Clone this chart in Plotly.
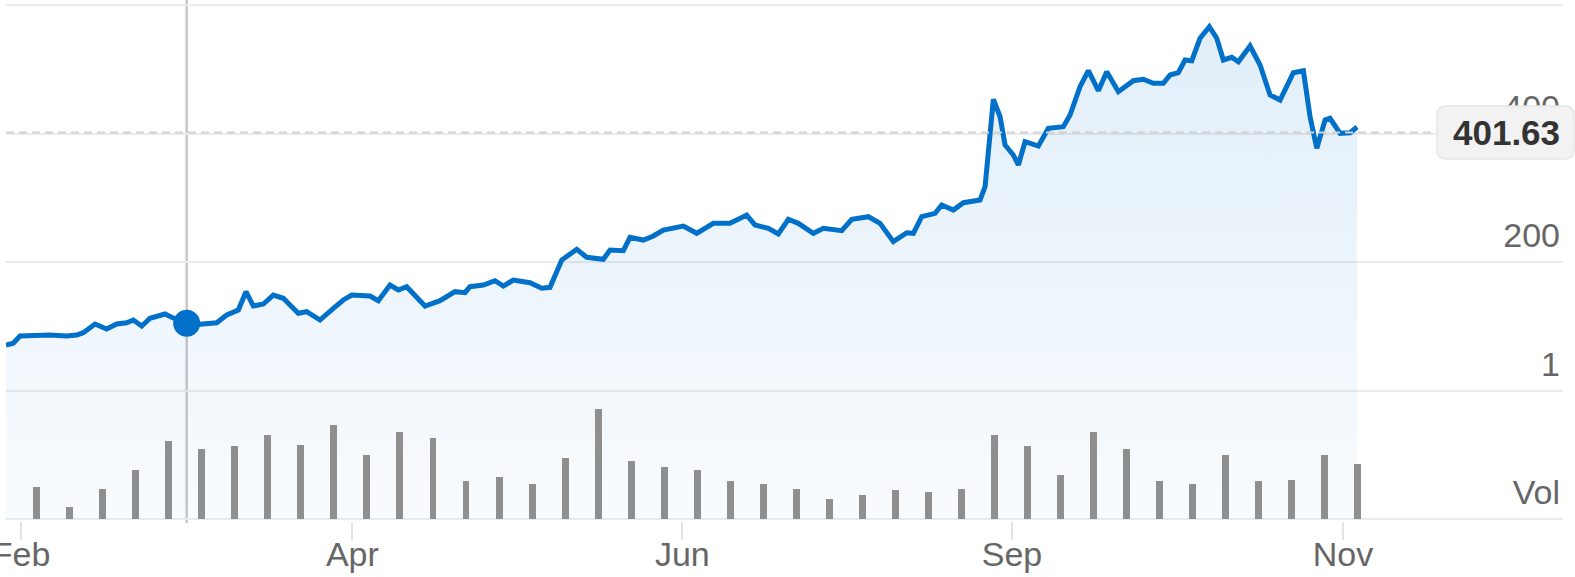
import plotly.graph_objects as go

# ---------------- data ----------------
# weekly volume bars (millions), one per week index 0..40
volume_m = [8.0, 3.0, 7.5, 12.3, 19.5, 17.5, 18.3, 21.0, 18.5, 23.5,
            16.0, 21.8, 20.3, 9.5, 10.5, 8.8, 15.3, 27.5, 14.5, 13.0,
            12.3, 9.5, 8.8, 7.5, 5.0, 6.0, 7.3, 6.8, 7.5, 21.0,
            18.3, 11.0, 21.8, 17.5, 9.5, 8.8, 16.0, 9.5, 9.8, 16.0, 13.8]

# price line: position in week units and closing price
price_week = [-0.926, -0.705, -0.503, -0.109, 0.406, 0.911, 1.214, 1.414, 1.768, 2.122,
              2.425, 2.728, 2.928, 3.182, 3.433, 3.887, 4.090, 4.544, 4.947, 5.453,
              5.755, 6.107, 6.340, 6.561, 6.864, 7.166, 7.469, 7.672, 7.923, 8.177,
              8.580, 8.983, 9.286, 9.540, 10.094, 10.345, 10.699, 10.951, 11.205, 11.759,
              12.213, 12.667, 12.970, 13.121, 13.524, 13.878, 14.130, 14.432, 14.938, 15.292,
              15.543, 15.898, 16.352, 16.654, 17.157, 17.360, 17.762, 17.965, 18.368, 18.671,
              18.973, 19.579, 19.985, 20.487, 20.993, 21.499, 21.750, 22.153, 22.455, 22.758,
              23.061, 23.515, 23.818, 24.375, 24.678, 25.181, 25.535, 25.937, 26.343, 26.543,
              26.797, 27.200, 27.403, 27.754, 28.057, 28.562, 28.714, 28.965, 29.168, 29.319,
              29.570, 29.722, 29.924, 30.327, 30.629, 31.084, 31.287, 31.589, 31.840, 32.143,
              32.398, 32.749, 33.203, 33.506, 33.809, 34.112, 34.314, 34.565, 34.768, 34.971,
              35.222, 35.504, 35.728, 35.928, 36.182, 36.382, 36.736, 37.039, 37.342, 37.644,
              37.847, 38.047, 38.350, 38.553, 38.756, 39.007, 39.158, 39.461, 39.764, 39.976]
price = [70.8, 73.5, 84.8, 85.3, 86.4, 84.8, 86.4, 90.0, 103.5, 95.7,
         103.5, 105.5, 109.7, 100.4, 112.4, 119.1, 113.9, 104.6, 103.0, 105.5,
         117.5, 125.3, 153.8, 131.5, 134.6, 148.6, 143.5, 133.1, 120.2, 122.6,
         109.7, 127.9, 140.9, 148.6, 147.1, 139.8, 164.2, 156.4, 161.6, 131.5,
         139.8, 153.8, 152.2, 161.6, 164.2, 170.9, 162.6, 172.0, 167.8, 159.1,
         160.6, 203.1, 219.8, 207.3, 204.2, 218.7, 217.6, 238.4, 234.2, 240.5,
         249.8, 256.0, 244.7, 260.2, 260.2, 273.1, 257.6, 252.4, 243.6, 266.5,
         260.2, 244.7, 252.4, 248.7, 266.5, 270.5, 260.2, 231.6, 245.6, 244.7,
         270.5, 275.8, 288.7, 280.9, 292.3, 296.5, 317.2, 453.2, 426.1, 382.1,
         366.5, 351.0, 387.2, 380.5, 408.1, 410.6, 428.8, 472.8, 497.7, 466.6,
         496.2, 465.1, 482.2, 484.4, 478.1, 478.1, 491.0, 494.6, 514.4, 513.3,
         548.2, 566.2, 548.2, 514.4, 518.6, 511.7, 536.2, 506.6, 459.9, 452.1,
         475.5, 494.6, 497.7, 426.1, 377.0, 421.0, 423.6, 400.3, 401.2, 410.0]

hover_idx = 17          # highlighted point (crosshair)
last_price = 401.63

month_ticks = [-0.47, 9.56, 19.55, 29.53, 39.55]
month_labels = ["Feb", "Apr", "Jun", "Sep", "Nov"]

price_grid = [-200, 0, 200, 400, 600]
price_grid_labels = ["Vol", "1", "200", "400", ""]

# ---------------- layout constants ----------------
W, H = 1575, 577
ML, MR, MT, MB = 6, 12, 3, 56
PW, PH = W - ML - MR, H - MT - MB
X_RANGE = [-0.926, 46.21]
Y_RANGE = [-203.1, 603.1]
V_RANGE = [-0.5, 129]

BLUE = "#0070c9"
FONT = "Liberation Sans, Arial, sans-serif"


def px_x(px):
    return (px - ML) / PW


def px_y(py):
    return (MT + PH - py) / PH


fig = go.Figure()

# invisible baseline for area fill
fig.add_trace(go.Scatter(
    x=[price_week[0], price_week[-1]], y=[Y_RANGE[0] + 3.1, Y_RANGE[0] + 3.1],
    mode="lines", line=dict(width=0, color="rgba(0,0,0,0)"),
    hoverinfo="skip", showlegend=False))

fig.add_trace(go.Scatter(
    x=price_week, y=price, mode="lines",
    line=dict(color=BLUE, width=5),
    fill="tonexty",
    fillgradient=dict(type="vertical",
                      colorscale=[[0, "rgba(0,112,201,0.025)"], [1, "rgba(0,112,201,0.12)"]],
                      start=-200, stop=560),
    showlegend=False))

fig.add_trace(go.Scatter(
    x=[price_week[hover_idx]], y=[price[hover_idx]], mode="markers",
    marker=dict(color=BLUE, size=27), showlegend=False))

fig.add_trace(go.Bar(
    x=list(range(len(volume_m))), y=volume_m, yaxis="y2",
    width=0.21, marker=dict(color="#8f8f8f", line=dict(width=0)),
    showlegend=False))

# crosshair
fig.add_shape(type="line", xref="x", yref="paper",
              x0=price_week[hover_idx], x1=price_week[hover_idx],
              y0=px_y(523), y1=px_y(0),
              line=dict(color="#c8c8c8", width=2.5), layer="between")

# dashed last-price line
fig.add_shape(type="line", xref="paper", yref="y",
              x0=0, x1=px_x(1437), y0=last_price, y1=last_price,
              line=dict(color="#d2d2d2", width=2, dash="8px,5px"), layer="above")

# rounded badge
bx0, bx1, by0, by1, r = 1437, 1574, 106, 159, 9
path = (f"M {px_x(bx0 + r)},{px_y(by0)} L {px_x(bx1 - r)},{px_y(by0)} "
        f"Q {px_x(bx1)},{px_y(by0)} {px_x(bx1)},{px_y(by0 + r)} "
        f"L {px_x(bx1)},{px_y(by1 - r)} Q {px_x(bx1)},{px_y(by1)} {px_x(bx1 - r)},{px_y(by1)} "
        f"L {px_x(bx0 + r)},{px_y(by1)} Q {px_x(bx0)},{px_y(by1)} {px_x(bx0)},{px_y(by1 - r)} "
        f"L {px_x(bx0)},{px_y(by0 + r)} Q {px_x(bx0)},{px_y(by0)} {px_x(bx0 + r)},{px_y(by0)} Z")
fig.add_shape(type="path", xref="paper", yref="paper", path=path,
              fillcolor="#f2f2f2", line=dict(color="#e6e6e6", width=1.5), layer="above")

fig.add_annotation(x=px_x(1506), xref="paper", y=last_price, yref="y",
                   text=f"<b>{last_price:.2f}</b>", showarrow=False,
                   xanchor="center", yanchor="middle",
                   font=dict(family=FONT, size=35, color="#333333"))

fig.update_layout(
    width=W, height=H,
    margin=dict(l=ML, r=MR, t=MT, b=MB, autoexpand=False),
    plot_bgcolor="white", paper_bgcolor="white",
    showlegend=False, bargap=0,
    xaxis=dict(range=X_RANGE, showgrid=False, zeroline=False, showline=False,
               automargin=False,
               tickmode="array", tickvals=month_ticks, ticktext=month_labels,
               ticks="", ticklabelstandoff=10,
               minor=dict(tickmode="array", tickvals=month_ticks, ticks="outside",
                          ticklen=18, tickwidth=2, tickcolor="#e3e3e3", showgrid=False),
               ticklabeloverflow="allow",
               tickfont=dict(family=FONT, size=34, color="#666666")),
    yaxis=dict(range=Y_RANGE, side="right", showgrid=True, gridcolor="#ebebeb", gridwidth=2,
               zeroline=False, showline=False, automargin=False,
               tickmode="array", tickvals=price_grid, ticktext=price_grid_labels,
               ticklabelposition="inside top", ticks="", ticklabelshift=-3,
               tickfont=dict(family=FONT, size=34, color="#666666")),
    yaxis2=dict(range=V_RANGE, overlaying="y", side="right", showgrid=False,
                zeroline=False, showticklabels=False, showline=False, automargin=False),
)

fig.write_html("out.html", config={"displayModeBar": False},
               post_script="document.body.style.margin='0';document.body.style.overflow='hidden';")
